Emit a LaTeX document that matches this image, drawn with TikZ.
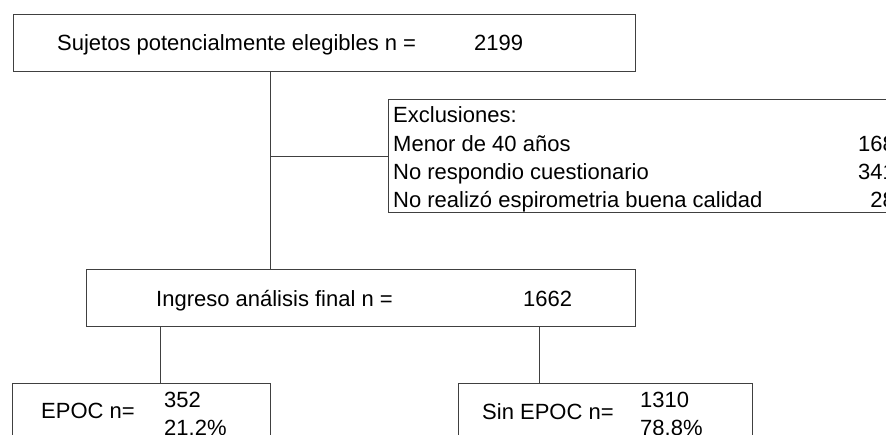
\documentclass[tikz,border=0pt]{standalone}
\usepackage{fontspec}
\setmainfont{Liberation Sans}
\usetikzlibrary{positioning}

\begin{document}
\begin{tikzpicture}[
  x=1pt, y=-1pt,
  every node/.style={font=\fontsize{22}{26}\selectfont},
  fbox/.style={draw=black!75, line width=1pt, rectangle, anchor=north west,
    inner sep=0pt},
  ftxt/.style={anchor=base west, inner sep=0pt},
  fnum/.style={anchor=base east, inner sep=0pt},
  link/.style={draw=black!75, line width=1pt},
]
\useasboundingbox (0,0) rectangle (886,434);
\clip (0,0) rectangle (886,434);

%% ROW 0 — Eligible subjects
\node[fbox, minimum width=622pt, minimum height=56.5pt] (elig) at (13,14) {};
\node[ftxt] (eligtxt) at (57,50) {Sujetos potencialmente elegibles n =};
\node[ftxt] (elign)   at (474,50) {2199};

%% Side box — Exclusions (runs past the right edge)
\node[fbox, minimum width=520pt, minimum height=113pt] (excl) at (388,99) {};
\node[ftxt] (exhead) at (393,122) {Exclusiones:};
\node[ftxt] (exage)  at (393,151) {Menor de 40 años};
\node[ftxt] (exquest) at (393,179) {No respondio cuestionario};
\node[ftxt] (exspiro) at (393,207) {No realizó espirometria buena calidad};
\node[fnum] (nage)   at (895,151) {168};
\node[fnum] (nquest) at (895,179) {341};
\node[fnum] (nspiro) at (895,207) {28};

%% ROW 1 — Final analysis
\node[fbox, minimum width=549pt, minimum height=57pt] (final) at (86,269) {};
\node[ftxt] (finaltxt) at (156,306) {Ingreso análisis final n =};
\node[ftxt] (finaln)   at (523,306) {1662};

%% ROW 2 — EPOC / Sin EPOC
\node[fbox, minimum width=258pt, minimum height=80pt] (epoc) at (12,383) {};
\node[ftxt] (epoctxt) at (41,418) {EPOC n=};
\node[ftxt] (epocn)   at (164,407) {352};
\node[ftxt] (epocpct) at (164,435) {21.2\%};

\node[fbox, minimum width=294pt, minimum height=80pt] (sinepoc) at (458,383) {};
\node[ftxt] (sintxt) at (482,419) {Sin EPOC n=};
\node[ftxt] (sinn)   at (640,407) {1310};
\node[ftxt] (sinpct) at (640,435) {78.8\%};

%% Connectors: trunk, branch to exclusions, two legs
\coordinate (trunk) at (270,0);
\coordinate (legL)  at (160,0);
\coordinate (legR)  at (539,0);
\draw[link] (elig.south -| trunk) -- (final.north -| trunk);
\draw[link] (trunk |- excl.west) -- (excl.west);
\draw[link] (final.south -| legL) -- (epoc.north -| legL);
\draw[link] (final.south -| legR) -- (sinepoc.north -| legR);

\end{tikzpicture}
\end{document}
